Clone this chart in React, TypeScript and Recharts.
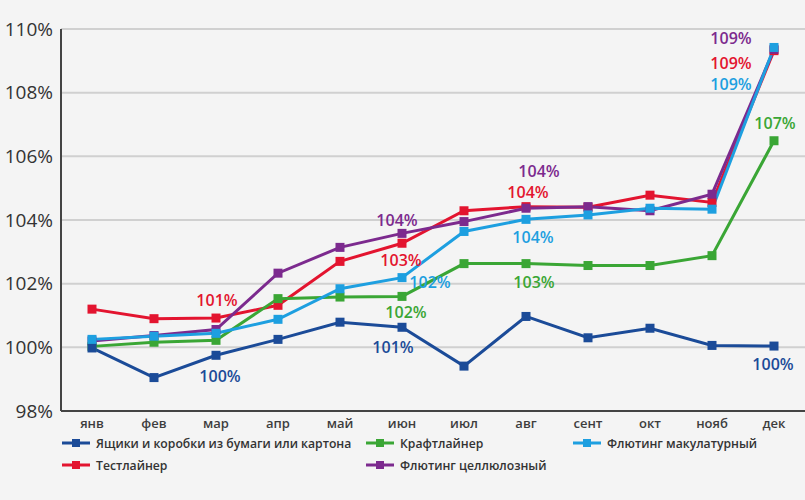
import React from 'react';
import { LineChart, Line, CartesianGrid, XAxis, YAxis, LabelList } from 'recharts';

// months
const months = ['янв', 'фев', 'мар', 'апр', 'май', 'июн', 'июл', 'авг', 'сент', 'окт', 'нояб', 'дек'];
const yTicks = [98, 100, 102, 104, 106, 108, 110];

// index values, % of january level
const boxes = [99.98, 99.05, 99.75, 100.25, 100.79, 100.63, 99.41, 100.97, 100.3, 100.6, 100.06, 100.04];
const kraft = [100.03, 100.16, 100.22, 101.53, 101.58, 101.6, 102.63, 102.63, 102.57, 102.57, 102.88, 106.49];
const flutingRecycled = [100.25, 100.35, 100.44, 100.88, 101.84, 102.19, 103.64, 104.02, 104.16, 104.37, 104.34, 109.42];
const testliner = [101.2, 100.9, 100.92, 101.32, 102.7, 103.27, 104.29, 104.42, 104.4, 104.78, 104.55, 109.32];
const flutingCellulose = [100.2, 100.37, 100.56, 102.33, 103.14, 103.58, 103.95, 104.37, 104.42, 104.29, 104.81, 109.36];

// value callouts
const boxesLabels = ['', '', '100%', '', '', '101%', '', '', '', '', '', '100%'];
const kraftLabels = ['', '', '', '', '', '102%', '', '103%', '', '', '', '107%'];
const flutingRecycledLabels = ['', '', '', '', '', '102%', '', '104%', '', '', '', '109%'];
const testlinerLabels = ['', '', '101%', '', '', '103%', '', '104%', '', '', '', '109%'];
const flutingCelluloseLabels = ['', '', '', '', '', '104%', '', '104%', '', '', '', '109%'];

const data = months.map((m, i) => ({
  month: m,
  boxes: boxes[i],
  kraft: kraft[i],
  flutingRecycled: flutingRecycled[i],
  testliner: testliner[i],
  flutingCellulose: flutingCellulose[i],
  boxesLabel: boxesLabels[i],
  kraftLabel: kraftLabels[i],
  flutingRecycledLabel: flutingRecycledLabels[i],
  testlinerLabel: testlinerLabels[i],
  flutingCelluloseLabel: flutingCelluloseLabels[i],
}));

const COLORS = {
  boxes: '#1b4b98',
  kraft: '#3aa635',
  flutingRecycled: '#1d9fe0',
  testliner: '#e3142f',
  flutingCellulose: '#7c2a8e',
};

// where each callout sits relative to its point (dx, dy)
const labelOffsets: Record<string, Record<number, [number, number]>> = {
  boxes: { 2: [4, 21], 5: [-9, 20], 11: [-1, 18] },
  kraft: { 5: [4, 16], 7: [8, 18], 11: [1, -18] },
  flutingRecycled: { 5: [28, 4], 7: [7, 18], 11: [-43, 37] },
  testliner: { 2: [1, -18], 5: [-1, 17], 7: [2, -15], 11: [-43, 12] },
  flutingCellulose: { 5: [-5, -13], 7: [13, -37], 11: [-43, -11] },
};

const FONT = '"Open Sans", "DejaVu Sans", sans-serif';

const squareDot = (key: string) => (p: any) => (
  <rect key={`${key}-${p.index}`} x={p.cx - 4.5} y={p.cy - 4.5} width={9} height={9} fill={COLORS[key]} />
);

const callout = (key: string) => (p: any) => {
  if (!p.value) return null;
  const off = labelOffsets[key][p.index] || [0, -15];
  return (
    <text
      x={p.x + off[0]}
      y={p.y + off[1]}
      textAnchor="middle"
      dominantBaseline="central"
      fill={COLORS[key]}
      fontFamily={FONT}
      fontWeight={600}
      fontSize={16}
    >
      {p.value}
    </text>
  );
};

const series = [
  { key: 'testliner', name: 'Тестлайнер' },
  { key: 'flutingCellulose', name: 'Флютинг целлюлозный' },
  { key: 'kraft', name: 'Крафтлайнер' },
  { key: 'boxes', name: 'Ящики и коробки из бумаги или картона' },
  { key: 'flutingRecycled', name: 'Флютинг макулатурный' },
];

const legendItems = [
  { key: 'boxes', name: 'Ящики и коробки из бумаги или картона', left: 62, top: 443 },
  { key: 'kraft', name: 'Крафтлайнер', left: 366, top: 443 },
  { key: 'flutingRecycled', name: 'Флютинг макулатурный', left: 573, top: 443 },
  { key: 'testliner', name: 'Тестлайнер', left: 62, top: 465 },
  { key: 'flutingCellulose', name: 'Флютинг целлюлозный', left: 366, top: 465 },
];

function LegendBlock() {
  return (
    <>
      {legendItems.map((it) => (
        <div
          key={it.key}
          style={{
            position: 'absolute',
            left: it.left,
            top: it.top - 10,
            height: 20,
            display: 'flex',
            alignItems: 'center',
            fontFamily: FONT,
            fontWeight: 600,
            fontSize: 12.2,
            color: '#333',
            whiteSpace: 'nowrap',
          }}
        >
          <svg width={30} height={12} style={{ marginRight: 4 }}>
            <line x1={0} y1={6} x2={28} y2={6} stroke={COLORS[it.key]} strokeWidth={3} />
            <rect x={10} y={2} width={8} height={8} fill={COLORS[it.key]} />
          </svg>
          {it.name}
        </div>
      ))}
    </>
  );
}

export default function App() {
  return (
    <div style={{ position: 'relative', width: 805, height: 500, background: '#f4f4f4' }}>
      <style>{`body{margin:0;background:#f4f4f4}`}</style>
      <LineChart width={805} height={500} data={data} margin={{ top: 29, right: 0, bottom: 59, left: 0 }}>
        <CartesianGrid horizontal vertical={false} stroke="#d0d0d0" strokeWidth={2} />
        <XAxis
          dataKey="month"
          padding={{ left: 31, right: 31 }}
          axisLine={{ stroke: '#444', strokeWidth: 2 }}
          tickLine={false}
          tickSize={0}
          tickMargin={8}
          height={30}
          tick={{ fill: '#3d3d3d', fontSize: 13, fontWeight: 600, fontFamily: FONT }}
          interval={0}
        />
        <YAxis
          domain={[98, 110]}
          ticks={yTicks}
          width={61}
          axisLine={{ stroke: '#444', strokeWidth: 2 }}
          tickLine={false}
          tickSize={0}
          tickMargin={8}
          allowDataOverflow
          tickFormatter={(v: number) => `${v}%`}
          tick={{ fill: '#333', fontSize: 19, fontFamily: FONT }}
        />
        {series.map((s) => (
          <Line
            key={s.key}
            type="linear"
            dataKey={s.key}
            name={s.name}
            stroke={COLORS[s.key]}
            strokeWidth={3}
            dot={squareDot(s.key)}
            activeDot={false}
            isAnimationActive={false}
          >
            <LabelList dataKey={`${s.key}Label`} content={callout(s.key)} />
          </Line>
        ))}
      </LineChart>
      <LegendBlock />
    </div>
  );
}
